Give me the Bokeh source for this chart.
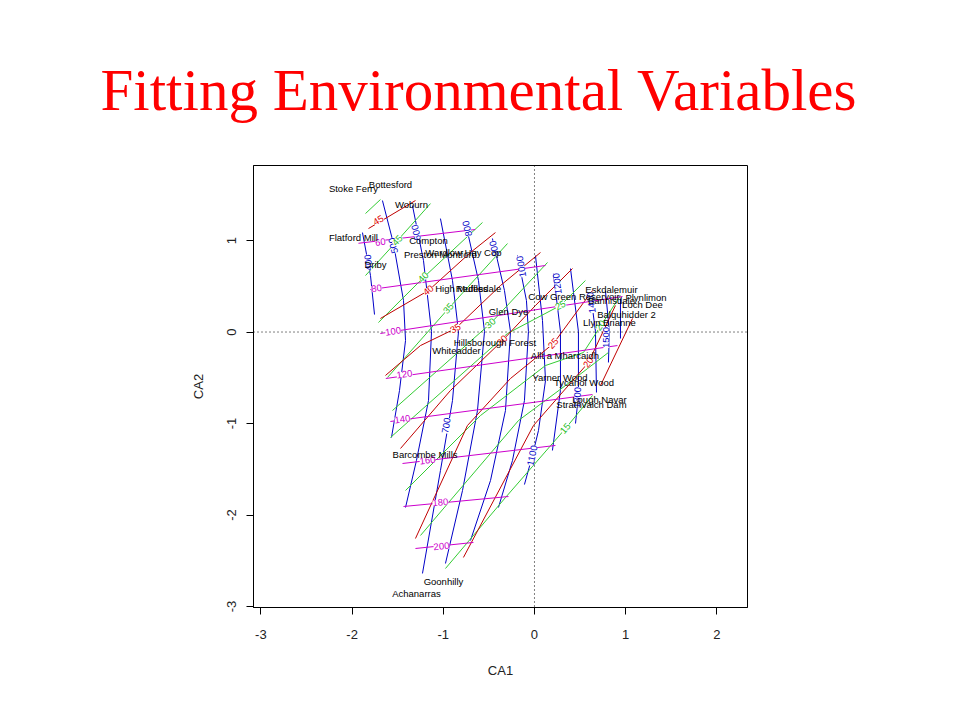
from bokeh.plotting import figure
from bokeh.models import ColumnDataSource, LabelSet, Span, Range1d, FixedTicker
from bokeh.core.properties import value
from bokeh.embed import file_html
from bokeh.resources import INLINE

# ---------------- data ----------------
site_names = ["Bottesford", "Stoke Ferry", "Woburn", "Flatford Mill", "Compton",
              "Wardlow Hay Cop", "Preston Montford", "Driby", "High Muffles", "Redesdale",
              "Eskdalemuir", "Cow Green Reservoir", "Bannisdale", "Plynlimon", "Loch Dee",
              "Glen Dye", "Balquhidder 2", "Llyn Brianne", "Hillsborough Forest", "Whiteadder",
              "Allt a Mharcaidh", "Yarner Wood", "Tycanol Wood", "Lough Navar", "Strathvaich Dam",
              "Barcombe Mills", "Goonhilly", "Achanarras"]
site_ca1 = [-1.579, -1.985, -1.349, -1.985, -1.162, -0.779, -1.031, -1.743, -0.80, -0.614,
            0.844, 0.433, 0.844, 1.223, 1.184, -0.285, 1.009, 0.822, -0.433, -0.855,
            0.334, 0.28, 0.543, 0.713, 0.625, -1.20, -0.998, -1.294]
site_ca2 = [1.612, 1.565, 1.393, 1.036, 1.0, 0.869, 0.847, 0.738, 0.479, 0.479,
            0.464, 0.388, 0.344, 0.377, 0.300, 0.227, 0.191, 0.104, -0.111, -0.202,
            -0.257, -0.494, -0.549, -0.738, -0.792, -1.342, -2.723, -2.855]

# blue contours (fitted surface 1)
blue_x = [
    [-1.886, -1.798, -1.754],
    [-1.667, -1.546, -1.436, -1.414, -1.480, -1.568],
    [-1.338, -1.217, -1.129, -1.162, -1.294, -1.414],
    [-1.031, -0.899, -0.833, -0.899, -1.031, -1.228],
    [-0.757, -0.614, -0.548, -0.625, -0.789, -0.976],
    [-0.461, -0.329, -0.263, -0.318, -0.482, -0.702],
    [-0.186, -0.088, -0.066, -0.110, -0.241, -0.395],
    [0.011, 0.088, 0.121, 0.044, -0.022, -0.110],
    [0.208, 0.285, 0.285, 0.197],
    [0.395, 0.482, 0.482, 0.450],
    [0.614, 0.669, 0.680],
    [0.778, 0.822, 0.811],
    [0.943, 0.943],
]
blue_y = [
    [1.087, 0.617, 0.191],
    [1.437, 0.967, 0.344, -0.093, -0.639, -1.153],
    [1.383, 0.781, 0.005, -0.749, -1.404, -1.918],
    [1.240, 0.563, 0.005, -0.749, -1.514, -2.639],
    [1.197, 0.563, 0.005, -0.858, -1.732, -2.530],
    [1.022, 0.454, 0.005, -0.858, -1.623, -2.279],
    [0.836, 0.344, 0.005, -0.749, -1.404, -1.918],
    [0.836, 0.126, -0.530, -1.077, -1.350, -1.667],
    [0.639, 0.005, -0.639, -1.295],
    [0.694, 0.005, -0.694, -1.0],
    [0.432, 0.005, -0.661],
    [0.454, 0.005, -0.333],
    [0.366, -0.071],
]
blue_lab = ["400", "500", "600", "700", "800", "900", "1000", "1100", "1200", "1300", "1400", "1500"]
blue_lab_x = [-1.820, -1.546, -1.294, -0.965, -0.735, -0.439, -0.143, -0.022, 0.252, 0.471, 0.625, 0.789]
blue_lab_y = [0.760, 0.945, 1.087, -1.022, 1.131, 0.913, 0.716, -1.350, 0.530, -0.716, 0.322, -0.060]
blue_lab_ang = [95, 104, 102, 80, 103, 103, 100, 78, 97, 86, 97, 90]

# red contours (fitted surface 2)
red_x = [
    [-1.820, -1.305],
    [-1.689, -1.162, -0.702, -0.428],
    [-1.634, -1.250, -0.866, -0.373, 0.066],
    [-1.469, -0.921, -0.351, 0.011, 0.417],
    [-1.305, -0.735, -0.263, 0.208, 0.636],
    [-0.779, -0.011, 0.592, 0.888],
    [0.724, 1.075],
]
red_y = [
    [1.131, 1.437],
    [0.148, 0.454, 0.869, 1.087],
    [-0.475, -0.148, 0.038, 0.508, 0.869],
    [-1.273, -0.639, -0.093, 0.290, 0.694],
    [-2.257, -1.022, -0.508, -0.126, 0.454],
    [-2.464, -1.022, -0.333, 0.290],
    [-0.585, 0.148],
]
red_lab = ["45", "40", "35", "30", "25", "20"]
red_lab_x = [-1.711, -1.162, -0.866, -0.351, 0.208, 0.592]
red_lab_y = [1.219, 0.454, 0.038, -0.093, -0.126, -0.333]
red_lab_ang = [31, 38, 30, 45, 47, 56]

# green contours (fitted surface 3)
green_x = [
    [-1.853, -1.689],
    [-1.853, -1.502, -1.140],
    [-1.711, -1.217, -0.570],
    [-1.612, -0.943, -0.296],
    [-1.557, -0.482, 0.143],
    [-1.579, -0.296, 0.285, 0.559],
    [-1.414, -0.592, 0.121, 0.537, 0.943],
    [-1.250, -0.175, 0.340, 0.811],
    [-0.976, -0.318, 0.340, 0.636],
]
green_y = [
    [1.295, 1.448],
    [0.617, 1.0, 1.404],
    [0.104, 0.596, 1.197],
    [-0.497, 0.257, 0.967],
    [-0.858, 0.093, 0.760],
    [-1.153, -0.016, 0.290, 0.563],
    [-1.732, -0.913, -0.366, -0.224, 0.399],
    [-2.224, -0.967, -0.585, -0.224],
    [-2.585, -1.809, -1.055, -0.694],
]
green_lab = ["45", "40", "35", "30", "25", "20", "15"]
green_lab_x = [-1.502, -1.217, -0.943, -0.482, 0.285, 0.724, 0.340]
green_lab_y = [1.0, 0.596, 0.257, 0.093, 0.290, 0.071, -1.055]
green_lab_ang = [48, 45, 48, 42, 28, 57, 49]

# magenta contours (fitted surface 4)
mag_x = [[-1.93, -0.65], [-1.80, 0.12], [-1.69, 0.965], [-1.63, 0.91],
         [-1.58, 0.636], [-1.447, 0.23], [-1.436, -0.285], [-1.305, -0.669]]
mag_y = [[0.97, 1.12], [0.464, 0.727], [-0.016, 0.388], [-0.508, -0.148],
         [-0.978, -0.683], [-1.437, -1.240], [-1.907, -1.798], [-2.366, -2.30]]
mag_lab = ["60", "80", "100", "120", "140", "160", "180", "200"]
mag_lab_x = [-1.69, -1.73, -1.55, -1.425, -1.447, -1.173, -1.031, -1.02]
mag_lab_y = [0.98, 0.475, 0.005, -0.464, -0.956, -1.404, -1.863, -2.344]
mag_lab_ang = [7, 8, 9, 8, 8, 7, 5, 6]

x_ticks = [-3, -2, -1, 0, 1, 2]
y_ticks = [-3, -2, -1, 0, 1]

# ---------------- figure ----------------
p = figure(width=944, height=700, output_backend="svg", toolbar_location=None,
           x_range=Range1d(-3.081, 2.336), y_range=Range1d(-3.011, 1.820),
           min_border_left=253, min_border_right=197, min_border_top=165,
           min_border_bottom=93)
p.background_fill_color = "white"
p.border_fill_color = "white"
p.outline_line_color = "black"
p.outline_line_width = 1
p.xgrid.visible = False
p.ygrid.visible = False

p.title.text = "Fitting Environmental Variables"
p.title.text_font = "Liberation Serif"
p.title.text_font_size = "59px"
p.title.text_font_style = "normal"
p.title.text_color = "#ff0000"
p.title.align = "left"
p.title.offset = -153
p.title.standoff = 85

for ax, ticks in ((p.xaxis[0], x_ticks), (p.yaxis[0], y_ticks)):
    ax.ticker = FixedTicker(ticks=ticks)
    ax.major_label_overrides = {t: str(t) for t in ticks}
    ax.major_tick_out = 7
    ax.major_tick_in = 0
    ax.minor_tick_line_color = None
    ax.axis_line_color = "black"
    ax.major_tick_line_color = "black"
    ax.major_label_text_font = "Liberation Sans"
    ax.major_label_text_font_size = "13px"
    ax.major_label_text_color = "#222222"
    ax.axis_label_text_font = "Liberation Sans"
    ax.axis_label_text_font_size = "13px"
    ax.axis_label_text_font_style = "normal"
    ax.axis_label_text_color = "#222222"

p.xaxis.axis_label = "CA1"
p.yaxis.axis_label = "CA2"
p.xaxis.major_label_standoff = 15
p.xaxis.axis_label_standoff = 21
p.yaxis.major_label_standoff = 10
p.yaxis.axis_label_standoff = 19
p.yaxis.major_label_orientation = "vertical"

p.add_layout(Span(location=0, dimension="width", line_color="black",
                  line_width=1, line_dash="1 3"))
p.add_layout(Span(location=0, dimension="height", line_color="black",
                  line_width=1, line_dash="1 3"))

families = [
    (blue_x, blue_y, blue_lab, blue_lab_x, blue_lab_y, blue_lab_ang, "#0000c8", "#0000c8"),
    (green_x, green_y, green_lab, green_lab_x, green_lab_y, green_lab_ang, "#33cc33", "#22bb22"),
    (red_x, red_y, red_lab, red_lab_x, red_lab_y, red_lab_ang, "#c00000", "#e00000"),
    (mag_x, mag_y, mag_lab, mag_lab_x, mag_lab_y, mag_lab_ang, "#cc00cc", "#cc00cc"),
]
for xs, ys, lab, lx, ly, la, lc, tc in families:
    p.multi_line(xs, ys, line_color=lc, line_width=1)

for xs, ys, lab, lx, ly, la, lc, tc in families:
    src = ColumnDataSource(dict(x=lx, y=ly, t=lab, a=la))
    p.add_layout(LabelSet(x="x", y="y", text="t", angle="a", angle_units="deg", source=src,
                          text_align="center", text_baseline="middle",
                          text_font=value("Liberation Sans"), text_font_size="9.5px",
                          text_color=tc, background_fill_color="white"))

site_src = ColumnDataSource(dict(x=site_ca1, y=site_ca2, t=site_names))
p.add_layout(LabelSet(x="x", y="y", text="t", source=site_src,
                      text_align="center", text_baseline="middle",
                      text_font=value("Liberation Sans"), text_font_size="9.5px",
                      text_color="black"))

open("out.html", "w").write(file_html(p, INLINE))
